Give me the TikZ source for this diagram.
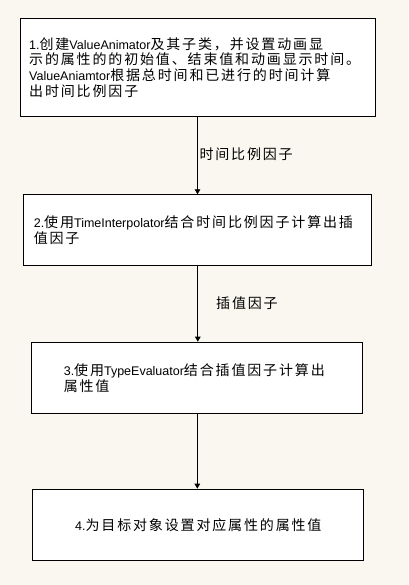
\documentclass[tikz,border=0pt]{standalone}
\usepackage{fontspec}
\setmainfont{Liberation Sans}
\newfontfamily\cjk[Scale=1.12]{Noto Sans CJK SC}
\newXeTeXintercharclass\cjkcls
\count255="4E00
\loop
  \XeTeXcharclass\count255=\cjkcls
  \ifnum\count255<"9FFF \advance\count255 by 1 \repeat
\XeTeXcharclass"3001=\cjkcls
\XeTeXcharclass"3002=\cjkcls
\XeTeXcharclass"FF0C=\cjkcls
\XeTeXinterchartokenstate=1
\XeTeXinterchartoks\cjkcls\cjkcls={\kern 1.85pt\relax}
\usetikzlibrary{arrows.meta}
\definecolor{bg}{RGB}{249,247,240}
\begin{document}
\begin{tikzpicture}[x=1pt,y=-1pt,
  txt/.style={font=\fontsize{12.5}{15.7}\selectfont},
  stepbox/.style={draw=black, line width=1pt, fill=white, rectangle, inner sep=0pt, anchor=north west, txt},
  arr/.style={draw=black, line width=0.9pt, -{Triangle[length=5pt,width=5.5pt]}},
  lbl/.style={inner sep=0pt, anchor=west, txt}]
\fill[bg] (0,0) rectangle (408,585);
\useasboundingbox (0,0) rectangle (408,585);
\node[stepbox, minimum width=355pt, minimum height=98pt, text width=336.6pt, align=left] (b1) at (19.5,18)
 {1.{\cjk 创建}ValueAnimator{\cjk 及其子类，并设置动画显}\\
  {\cjk 示的属性的的初始值、结束值和动画显示时间。}\\
  ValueAniamtor{\cjk 根据总时间和已进行的时间计算}\\
  {\cjk 出时间比例因子}};
\node[stepbox, minimum width=348pt, minimum height=71pt, text width=328pt, align=left] (b2) at (23.3,194.3)
 {2.{\cjk 使用}TimeInterpolator{\cjk 结合时间比例因子计算出插}\\
  {\cjk 值因子}};
\node[stepbox, minimum width=331pt, minimum height=71.3pt, text width=267pt, align=left] (b3) at (31.3,341.7)
 {3.{\cjk 使用}TypeEvaluator{\cjk 结合插值因子计算出}\\
  {\cjk 属性值}};
\node[stepbox, minimum width=331pt, minimum height=71.3pt, align=center] (b4) at (32.3,488.7)
 {4.{\cjk 为目标对象设置对应属性的属性值}};
\draw[arr] (b1.south) -- (b1.south |- b2.north);
\draw[arr] (b2.south) -- (b2.south |- b3.north);
\draw[arr] (b3.south) -- (b3.south |- b4.north);
\node[lbl] (l1) at (199.3,154) {\cjk 时间比例因子};
\node[lbl] (l2) at (216,303) {\cjk 插值因子};
\end{tikzpicture}
\end{document}
